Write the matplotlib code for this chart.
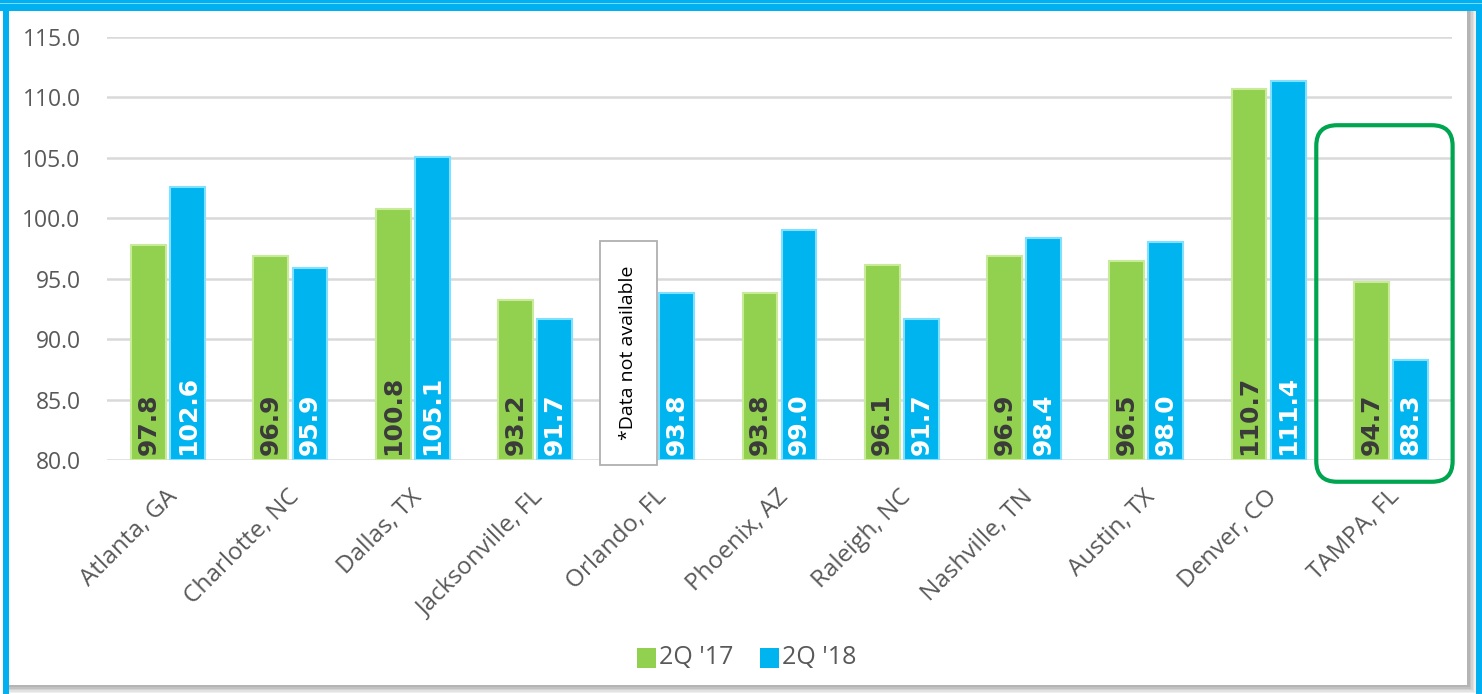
import matplotlib
matplotlib.use("Agg")
import matplotlib.pyplot as plt
import matplotlib.transforms as mtransforms
from matplotlib.patches import Rectangle, FancyBboxPatch
import numpy as np

plt.rcParams['font.family'] = ['Open Sans', 'DejaVu Sans']

categories = ["Atlanta, GA", "Charlotte, NC", "Dallas, TX", "Jacksonville, FL", "Orlando, FL",
              "Phoenix, AZ", "Raleigh, NC", "Nashville, TN", "Austin, TX", "Denver, CO", "TAMPA, FL"]
q2_17 = [97.8, 96.9, 100.8, 93.2, None, 93.8, 96.1, 96.9, 96.5, 110.7, 94.7]
q2_18 = [102.6, 95.9, 105.1, 91.7, 93.8, 99.0, 91.7, 98.4, 98.0, 111.4, 88.3]
series_names = ["2Q '17", "2Q '18"]
yticks = [80, 85, 90, 95, 100, 105, 110, 115]

W, H = 1482, 694
fig = plt.figure(figsize=(W / 100, H / 100), dpi=100)
fig.patch.set_facecolor("white")

def fx(px):
    return px / W

def fy(py):
    return 1 - py / H

def frect(x0, y0, x1, y1, color, z):
    fig.patches.append(Rectangle((fx(x0), fy(y1)), fx(x1) - fx(x0), fy(y0) - fy(y1),
                                 transform=fig.transFigure, facecolor=color,
                                 edgecolor="none", zorder=z))

# Frame: soft shadow + blue border
for k, c in enumerate(["#f0f0f0", "#e2e2e2", "#d2d2d2", "#c2c2c2", "#b4b4b4"]):
    frect(9, 11, 1476 - k * 1.6, 693 - k * 1.4, c, 0 + k * 0.01)
frect(9, 11, 1467, 685, "white", 0.1)
frect(0, 0, W, 11, "#00B0F0", 0.2)
frect(0, 3, W, 4, "#80d8f8", 0.21)
frect(3, 0, 9, H, "#00B0F0", 0.2)
frect(1476, 0, W, H, "#00B0F0", 0.2)

ax = fig.add_axes([fx(107), fy(460), fx(1452) - fx(107), fy(37) - fy(460)])
ax.set_facecolor("none")
ax.set_zorder(1)

x = np.arange(len(categories))
bw = 0.285
off = 0.16
green = "#92D050"
blue = "#00B4F0"
lab_font = dict(family="DejaVu Sans", fontsize=18, fontweight="bold")

for i in range(len(categories)):
    v1 = q2_17[i]
    v2 = q2_18[i]
    if v1 is not None:
        ax.bar(x[i] - off, v1 - 80, bottom=80, width=bw, color=green,
               edgecolor="#c8eb9a", linewidth=1.5, zorder=3)
        ax.text(x[i] - off, 80.4, f"{v1:.1f}", rotation=90, ha="center", va="bottom",
                color="#3a3a3a", zorder=5, **lab_font)
    ax.bar(x[i] + off, v2 - 80, bottom=80, width=bw, color=blue,
           edgecolor="#7fe0ff", linewidth=1.5, zorder=3)
    ax.text(x[i] + off, 80.4, f"{v2:.1f}", rotation=90, ha="center", va="bottom",
            color="white", zorder=5, **lab_font)

# Orlando "data not available" box
oi = categories.index("Orlando, FL")
ax.add_patch(Rectangle((oi - 0.47, 79.6), 0.467, 98.1 - 79.6, facecolor="white",
                       edgecolor="#b0b0b0", linewidth=1.3, zorder=4, clip_on=False))
ax.text(oi - 0.236, 88.85, "*Data not available", rotation=90, ha="center", va="center",
        fontsize=14, color="black", zorder=5)

# Highlight around Tampa
ti = categories.index("TAMPA, FL")
ax.add_patch(FancyBboxPatch((ti - 0.61, 78.2), 1.115, 107.7 - 78.2,
                            boxstyle="round,pad=0,rounding_size=0.17",
                            mutation_aspect=10, facecolor="none", edgecolor="#00A550",
                            linewidth=3, zorder=6, clip_on=False))

ax.set_xlim(-0.5, len(categories) - 0.5)
ax.set_ylim(80, 115)
ax.set_yticks(yticks)
ax.set_yticklabels([f"{v:.1f}" for v in yticks], fontsize=16.5, color="#595959")
ax.grid(axis="y", color="#d9d9d9", linewidth=1.8, zorder=0)
ax.set_axisbelow(True)
for s in ax.spines.values():
    s.set_visible(False)
ax.tick_params(axis="both", length=0)
ax.tick_params(axis="y", pad=19)
ax.set_xticks(x)
ax.set_xticklabels(categories, rotation=45, ha="right", rotation_mode="anchor",
                   fontsize=17.5, color="#595959")
ax.tick_params(axis="x", pad=18)
shift = mtransforms.ScaledTranslation(-3 / 100, 0, fig.dpi_scale_trans)
for lbl in ax.get_xticklabels():
    lbl.set_transform(lbl.get_transform() + shift)

# Legend
frect(637, 648, 656, 668, green, 2)
fig.text(fx(659), fy(658), series_names[0], fontsize=18, color="#595959", va="center", ha="left")
frect(760, 648, 779, 668, blue, 2)
fig.text(fx(782), fy(658), series_names[1], fontsize=18, color="#595959", va="center", ha="left")

fig.savefig("out.png", dpi=100)
